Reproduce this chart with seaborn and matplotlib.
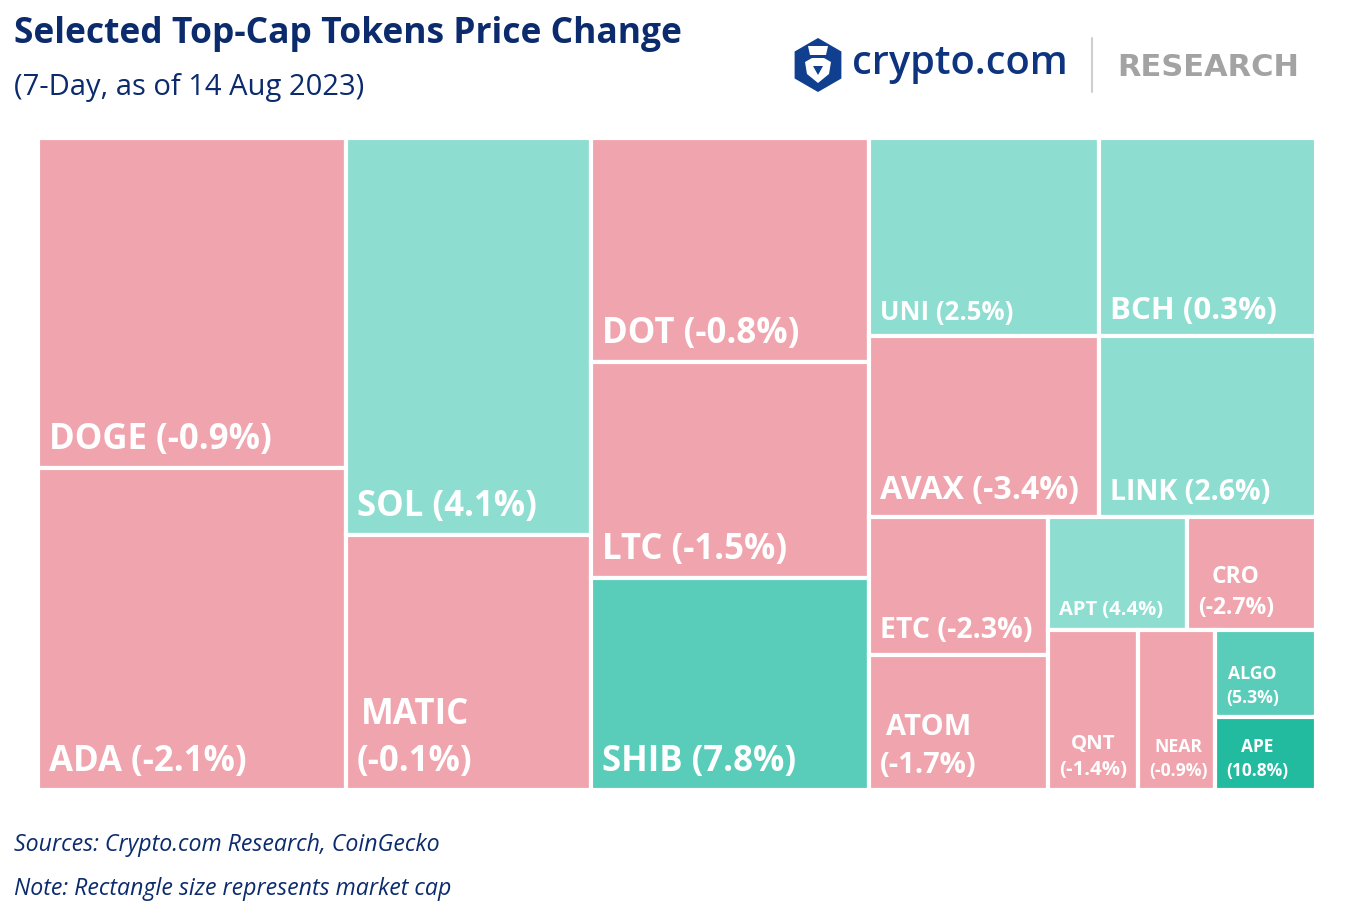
import matplotlib
matplotlib.use("Agg")
import matplotlib.pyplot as plt
import seaborn as sns
from matplotlib.patches import Rectangle, Polygon
import numpy as np

tokens = ['DOGE', 'ADA', 'SOL', 'MATIC', 'DOT', 'LTC', 'SHIB', 'UNI', 'BCH', 'AVAX',
          'LINK', 'ETC', 'ATOM', 'APT', 'CRO', 'QNT', 'NEAR', 'ALGO', 'APE']
market_cap = [10.16, 9.92, 9.73, 6.25, 6.23, 6.00, 5.89, 4.55, 4.30, 4.16,
              3.93, 2.47, 2.42, 1.57, 1.46, 1.44, 1.23, 0.88, 0.74]
change = [-0.9, -2.1, 4.1, -0.1, -0.8, -1.5, 7.8, 2.5, 0.3, -3.4,
          2.6, -2.3, -1.7, 4.4, -2.7, -1.4, -0.9, 5.3, 10.8]

caps = dict(zip(tokens, market_cap))
chg = dict(zip(tokens, change))

# nesting of the treemap: 'h' = side by side, 'v' = stacked
tree = ('h', [
    ('v', ['DOGE', 'ADA']),
    ('v', ['SOL', 'MATIC']),
    ('v', ['DOT', 'LTC', 'SHIB']),
    ('v', [
        ('h', [('v', ['UNI', 'AVAX']), ('v', ['BCH', 'LINK'])]),
        ('h', [('v', ['ETC', 'ATOM']),
               ('v', [('h', ['APT', 'CRO']),
                      ('h', ['QNT', 'NEAR', ('v', ['ALGO', 'APE'])])])]),
    ]),
])


def size(node):
    if isinstance(node, str):
        return caps[node]
    return sum(size(k) for k in node[1])


def layout(node, x, y, w, h, out):
    if isinstance(node, str):
        out[node] = (x, y, w, h)
        return
    d, kids = node
    tot = size(node)
    pos = x if d == 'h' else y
    for k in kids:
        f = size(k) / tot
        if d == 'h':
            layout(k, pos, y, w * f, h, out)
            pos += w * f
        else:
            layout(k, x, pos, w, h * f, out)
            pos += h * f


def tile_color(v):
    if v < 0:
        return '#f0a4ad'
    if v < 5:
        return '#8eddd1'
    if v < 10:
        return '#59cdba'
    return '#22bba0'


# label styling
label_size = {'UNI': 18.5, 'BCH': 22.5, 'AVAX': 23, 'LINK': 20.5, 'ETC': 20.5,
              'ATOM': 21, 'APT': 14.5, 'CRO': 16.5, 'QNT': 14.7, 'NEAR': 12.7,
              'ALGO': 12.7, 'APE': 12.5}
wrapped = {'MATIC', 'ATOM', 'CRO', 'QNT', 'NEAR', 'ALGO', 'APE'}

sns.set_theme(style='white')
plt.rcParams['font.family'] = ['Open Sans', 'DejaVu Sans']

navy = '#0b2b6d'
fig = plt.figure(figsize=(13.54, 9.15), dpi=100)

W, H = 1278, 652
ax = fig.add_axes([38 / 1354, 125 / 915, W / 1354, H / 915])
rects = {}
layout(tree, 0, 0, W, H, rects)
for t in tokens:
    x, y, w, h = rects[t]
    ax.add_patch(Rectangle((x, y), w, h, facecolor=tile_color(chg[t]),
                           edgecolor='white', linewidth=3))
    sep = '\n' if t in wrapped else ' '
    ax.text(x + 11, y + h - 10, f'{t}{sep}({chg[t]:.1f}%)', color='white',
            fontsize=label_size.get(t, 25), fontweight='bold', ha='left', va='bottom',
            multialignment='center', linespacing=1.4)
ax.set_xlim(0, W)
ax.set_ylim(H, 0)
ax.axis('off')

# header / footer overlay in pixel coords
ov = fig.add_axes([0, 0, 1, 1], zorder=-1)
ov.set_xlim(0, 1354)
ov.set_ylim(915, 0)
ov.axis('off')

ov.text(14, 34, 'Selected Top-Cap Tokens Price Change', color=navy, fontsize=25.5,
        fontweight='bold', ha='left', va='center')
ov.text(14, 87, '(7-Day, as of 14 Aug 2023)', color=navy, fontsize=21,
        ha='left', va='center')

# logo
ang = np.deg2rad(np.arange(90, 450, 60))
ov.add_patch(Polygon(np.c_[818 + 27 * np.cos(ang), 65 - 27 * np.sin(ang)],
                     closed=True, facecolor='#103f8f', edgecolor='none'))
ov.add_patch(Polygon([(808, 46), (828, 46), (826, 55), (810, 55)], closed=True,
                     facecolor='white', edgecolor='none'))
ov.add_patch(Polygon([(805, 62), (812, 58), (824, 58), (831, 62), (829, 74), (818, 83),
                      (807, 74)], closed=True, facecolor='white', edgecolor='none'))
ov.add_patch(Polygon([(813, 66), (823, 66), (818, 75)], closed=True,
                     facecolor='#103f8f', edgecolor='none'))
ov.text(852, 64, 'crypto.com', color='#0e3480', fontsize=28.6, fontweight='semibold',
        ha='left', va='center')
ov.plot([1092, 1092], [38, 92], color='#cfcfcf', lw=1.5)
ov.text(1117, 67, 'RESEARCH', color='#a3a3a3', fontsize=22, fontweight='bold',
        family='DejaVu Sans', ha='left', va='center')

ov.text(14, 845, 'Sources: Crypto.com Research, CoinGecko', color=navy, fontsize=16.7,
        style='italic', ha='left', va='center')
ov.text(14, 889, 'Note: Rectangle size represents market cap', color=navy, fontsize=16.7,
        style='italic', ha='left', va='center')

fig.savefig('out.png', dpi=100, facecolor='white')
